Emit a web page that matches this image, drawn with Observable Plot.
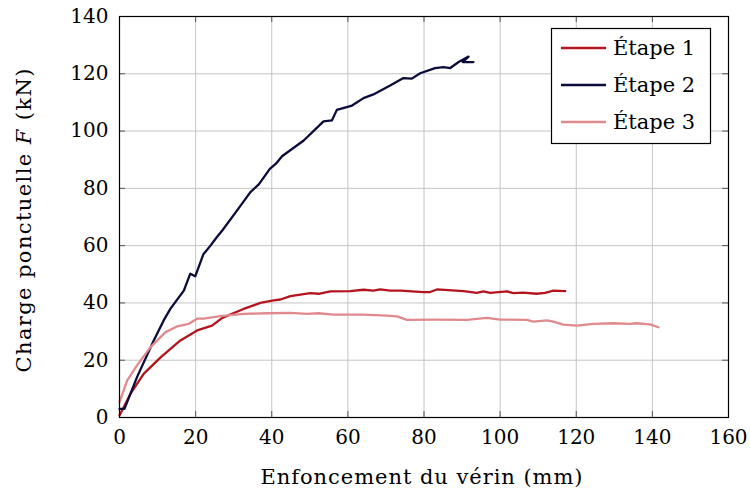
<!DOCTYPE html>
<html>
<head>
<meta charset="utf-8">
<script src="https://cdn.jsdelivr.net/npm/d3@7"></script>
<script src="https://cdn.jsdelivr.net/npm/@observablehq/plot@0.6"></script>
<style>
  html, body { margin: 0; padding: 0; background: #fff; }
  #chart { width: 750px; height: 492px; }
</style>
</head>
<body>
<div id="chart"></div>
<script>
// Étape 1 (red)
const etape1X = [0, 2.9, 6.4, 10.8, 16, 20.4, 24.3, 27, 32.6, 37, 40.5, 42.3, 44.9, 50.1, 52.3, 55.4, 60.6, 64.1, 66.7, 68.5, 71.1, 73.8, 79.9, 81.6, 83.4, 90.4, 93.9, 95.6, 97.4, 101.8, 103.5, 106.1, 109.6, 111.8, 114, 117.1];
const etape1Y = [0.7, 8.3, 15.3, 21, 26.9, 30.4, 32.1, 34.8, 37.9, 40, 40.9, 41.2, 42.4, 43.4, 43.2, 44, 44.1, 44.6, 44.3, 44.7, 44.3, 44.3, 43.8, 43.8, 44.7, 44.1, 43.5, 44, 43.5, 44, 43.4, 43.6, 43.2, 43.5, 44.3, 44.1];
// Étape 2 (navy)
const etape2X = [0, 1.3, 4.6, 9, 11.6, 13.4, 16.9, 18.6, 19.9, 22, 23.9, 25.6, 27, 30.9, 34.4, 36.6, 39.5, 41.1, 42.7, 48.4, 53.6, 55.8, 57.1, 61.1, 64.1, 66.7, 71.1, 74.6, 76.8, 79, 82.9, 85.1, 86.9, 89.1, 91.7, 90.2, 93];
const etape2Y = [3, 3, 14.1, 26.9, 33.9, 38, 44.3, 50.2, 49.3, 56.9, 60, 63, 65.3, 72.3, 78.7, 81.4, 86.8, 88.6, 91.2, 96.7, 103.4, 103.7, 107.4, 108.9, 111.5, 112.8, 115.9, 118.5, 118.3, 120.2, 122, 122.3, 122, 124.1, 126, 124.1, 124.1];
// Étape 3 (pink)
const etape3X = [0, 2, 4.6, 8.1, 12.1, 15.1, 18.2, 20.4, 22.1, 26.5, 32.6, 38.8, 44.9, 49.3, 52.3, 56.2, 59.8, 64.1, 70.3, 72.9, 75.5, 82.5, 91.3, 96.5, 100, 107, 108.7, 112.3, 114, 116.6, 120.1, 124.5, 129.7, 134.1, 135.9, 139.4, 141.6];
const etape3Y = [5.3, 12.9, 18.2, 24.5, 29.8, 31.8, 32.7, 34.5, 34.5, 35.4, 36.2, 36.4, 36.5, 36.2, 36.4, 35.9, 35.9, 35.9, 35.6, 35.3, 34.1, 34.2, 34.1, 34.8, 34.2, 34.1, 33.5, 33.9, 33.5, 32.4, 32.1, 32.7, 32.9, 32.7, 32.9, 32.5, 31.5];

const seriesNames = ["Étape 1", "Étape 2", "Étape 3"];
const seriesColors = ["#b3141f", "#0b0b3b", "#e08a8e"];
const xTicks = [0, 20, 40, 60, 80, 100, 120, 140, 160];
const yTicks = [0, 20, 40, 60, 80, 100, 120, 140];
const xLabel = "Enfoncement du vérin (mm)";
const yLabelParts = ["Charge ponctuelle ", "F", " (kN)"];

const toRows = (xs, ys, name) => xs.map((x, i) => ({x, y: ys[i], s: name}));
const rows = [
  ...toRows(etape1X, etape1Y, seriesNames[0]),
  ...toRows(etape2X, etape2Y, seriesNames[1]),
  ...toRows(etape3X, etape3Y, seriesNames[2])
];

const FONT = "'DejaVu Serif', 'Liberation Serif', serif";
const W = 750, H = 492;
const mL = 119, mR = 22, mT = 16, mB = 75;
const innerW = W - mL - mR, innerH = H - mT - mB;
const tickLen = 6;

const chart = Plot.plot({
  width: W, height: H,
  marginLeft: mL, marginRight: mR, marginTop: mT, marginBottom: mB,
  style: {fontFamily: FONT, fontSize: "20px", background: "#fff", color: "#000"},
  x: {domain: [0, 160], ticks: xTicks, label: null},
  y: {domain: [0, 140], ticks: yTicks, label: null},
  color: {domain: seriesNames, range: seriesColors},
  marks: [
    Plot.gridX(xTicks, {stroke: "#c4c4c4", strokeOpacity: 1, strokeWidth: 1}),
    Plot.gridY(yTicks, {stroke: "#c4c4c4", strokeOpacity: 1, strokeWidth: 1}),
    Plot.tickX(xTicks, {x: d => d, insetTop: innerH - tickLen, stroke: "#555", strokeWidth: 1}),
    Plot.tickX(xTicks, {x: d => d, insetBottom: innerH - tickLen, stroke: "#555", strokeWidth: 1}),
    Plot.tickY(yTicks, {y: d => d, insetRight: innerW - tickLen, stroke: "#555", strokeWidth: 1}),
    Plot.tickY(yTicks, {y: d => d, insetLeft: innerW - tickLen, stroke: "#555", strokeWidth: 1}),
    Plot.axisX(xTicks, {tickSize: 0, tickPadding: 12, fontSize: 20, label: null}),
    Plot.axisY(yTicks, {tickSize: 0, tickPadding: 11, fontSize: 20, label: null}),
    Plot.line(rows, {x: "x", y: "y", z: "s", stroke: "s", strokeWidth: 2.3, strokeLinejoin: "round", curve: "linear"}),
    Plot.frame({stroke: "#000", strokeWidth: 1.2})
  ]
});

const svg = d3.select(chart);
// x axis label
svg.append("text")
  .attr("x", 421.5).attr("y", 484)
  .attr("text-anchor", "middle")
  .attr("font-size", 21)
  .attr("textLength", 322)
  .attr("lengthAdjust", "spacing")
  .attr("fill", "#000")
  .text(xLabel);
// y axis label
const yl = svg.append("text")
  .attr("transform", `translate(31,220.5) rotate(-90)`)
  .attr("text-anchor", "middle")
  .attr("font-size", 21)
  .attr("textLength", 304)
  .attr("lengthAdjust", "spacing")
  .attr("fill", "#000");
yl.append("tspan").text(yLabelParts[0]);
yl.append("tspan").attr("font-style", "italic").text(yLabelParts[1]);
yl.append("tspan").text(yLabelParts[2]);

// legend
const lg = svg.append("g");
lg.append("rect").attr("x", 551.5).attr("y", 28.5).attr("width", 159).attr("height", 115)
  .attr("fill", "#fff").attr("stroke", "#000").attr("stroke-width", 1.2);
seriesNames.forEach((name, i) => {
  const cy = 48 + i * 37;
  lg.append("line").attr("x1", 561).attr("x2", 606).attr("y1", cy).attr("y2", cy)
    .attr("stroke", seriesColors[i]).attr("stroke-width", 2.3);
  lg.append("text").attr("x", 613).attr("y", cy + 7).attr("font-size", 21)
    .attr("text-anchor", "start").attr("fill", "#000").text(name);
});

svg.selectAll("text").style("font-family", FONT);

document.getElementById("chart").appendChild(chart);
</script>
</body>
</html>
